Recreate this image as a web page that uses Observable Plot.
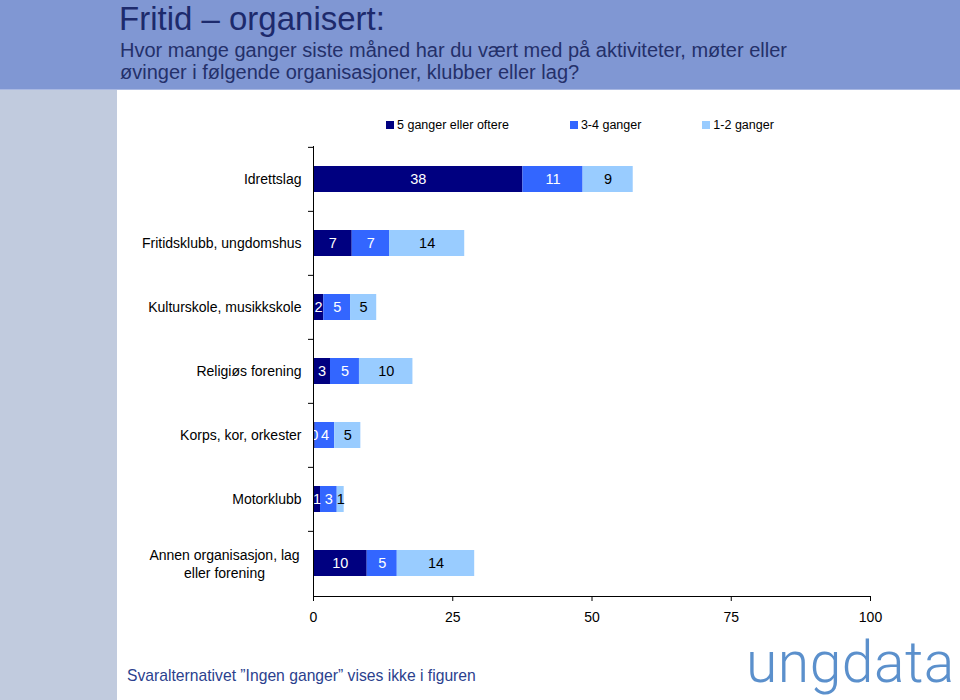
<!DOCTYPE html>
<html>
<head>
<meta charset="utf-8">
<script src="https://cdn.jsdelivr.net/npm/d3@7"></script>
<script src="https://cdn.jsdelivr.net/npm/@observablehq/plot@0.6"></script>
<style>
  html, body { margin: 0; padding: 0; background: #ffffff; }
  #page { position: relative; width: 960px; height: 700px; overflow: hidden; background: #ffffff; font-family: "Liberation Sans", Arial, sans-serif; }
  #header { position: absolute; left: 0; top: 0; width: 960px; height: 90px; background: #8097d3; border-bottom: 1px solid #a9b8e2; box-sizing: border-box; }
  #sideband { position: absolute; left: 0; top: 90px; width: 117px; height: 610px; background: #c1cbde; }
  #title { position: absolute; left: 119px; top: 0px; font-size: 33px; color: #1d2a6c; line-height: 38px; white-space: nowrap; }
  #subtitle { position: absolute; left: 120px; top: 39px; font-size: 20px; color: #24306a; line-height: 22px; white-space: nowrap; }
  #legend { position: absolute; left: 386px; top: 117px; display: flex; gap: 61px; font-size: 12.5px; color: #000; line-height: 16px; }
  #legend .item { display: flex; align-items: center; gap: 3px; }
  #legend .sw { width: 8px; height: 8px; display: inline-block; }
  #chart { position: absolute; left: 118px; top: 140px; }
  #footer { position: absolute; left: 127px; top: 667px; font-size: 15.7px; color: #2b3f8e; white-space: nowrap; }
  #logo { position: absolute; left: 746px; top: 625px; font-family: Roboto, sans-serif; font-weight: 300; font-size: 57px; color: #5b90cc; white-space: nowrap; line-height: 76px; letter-spacing: 0.5px; }
</style>
</head>
<body>
<div id="page">
  <div id="header"></div>
  <div id="sideband"></div>
  <div id="title">Fritid – organisert:</div>
  <div id="subtitle">Hvor mange ganger siste måned har du vært med på aktiviteter, møter eller<br>øvinger i følgende organisasjoner, klubber eller lag?</div>
  <div id="legend"></div>
  <div id="chart"></div>
  <div id="footer">Svaralternativet ”Ingen ganger” vises ikke i figuren</div>
  <div id="logo">ungdata</div>
</div>
<script>
const categories = [
  "Idrettslag",
  "Fritidsklubb, ungdomshus",
  "Kulturskole, musikkskole",
  "Religiøs forening",
  "Korps, kor, orkester",
  "Motorklubb",
  "Annen organisasjon, lag\neller forening"
];
const series = ["5 ganger eller oftere", "3-4 ganger", "1-2 ganger"];
const fiveOrMore = [37.6, 6.95, 1.85, 3.05, 0.3, 1.26, 9.64];
const threeToFour = [10.8, 6.7, 4.8, 5.2, 3.5, 3.0, 5.4];
const oneToTwo = [9.0, 13.5, 4.7, 9.6, 4.7, 1.25, 13.9];
const xTicks = [0, 25, 50, 75, 100];

const colors = ["#000080", "#3366FF", "#99CCFF"];
const labelColors = ["#ffffff", "#ffffff", "#000000"];
const valueSets = [fiveOrMore, threeToFour, oneToTwo];

const data = [];
series.forEach((s, i) => categories.forEach((c, j) => data.push({cat: c, series: s, si: i, value: valueSets[i][j]})));

// legend
const legend = document.getElementById("legend");
series.forEach((s, i) => {
  const item = document.createElement("div");
  item.className = "item";
  const sw = document.createElement("span");
  sw.className = "sw";
  sw.style.background = colors[i];
  const t = document.createElement("span");
  t.textContent = s;
  item.appendChild(sw);
  item.appendChild(t);
  legend.appendChild(item);
});

const H = 500, MT = 6, MB = 44;
const step = (H - MT - MB) / categories.length;

const chart = Plot.plot({
  width: 842,
  height: H,
  marginTop: MT,
  marginBottom: MB,
  marginLeft: 195,
  marginRight: 90,
  style: {fontFamily: "'Liberation Sans', Arial, sans-serif", fontSize: "14px", color: "#000", background: "transparent", overflow: "visible"},
  x: {domain: [0, 100]},
  y: {domain: categories, paddingInner: 0.6, paddingOuter: 0.3},
  color: {type: "identity"},
  marks: [
    Plot.barX(data, Plot.stackX({x: "value", y: "cat", z: "si", fill: d => colors[d.si]})),
    Plot.text(data, Plot.stackX({x: "value", y: "cat", z: "si", text: d => String(Math.round(d.value)), fill: d => labelColors[d.si], fontSize: 14.5})),
    Plot.ruleX([0], {stroke: "#000", strokeWidth: 1}),
    Plot.frame({anchor: "bottom", stroke: "#000"}),
    Plot.axisX({ticks: xTicks, tickSize: 5, tickPadding: 11, fontSize: 14, label: null, stroke: "#000"}),
    Plot.axisY({tickSize: 5, tickFormat: () => "", dy: -step / 2, label: null, stroke: "#000"}),
    Plot.axisY({ticks: categories.slice(0, 6), tickSize: 0, tickPadding: 12, fontSize: 14, label: null}),
    Plot.axisY({ticks: [categories[6]], tickSize: 0, tickPadding: 89, textAnchor: "middle", lineHeight: 1.3, fontSize: 14, label: null})
  ]
});
document.getElementById("chart").appendChild(chart);
</script>
</body>
</html>
